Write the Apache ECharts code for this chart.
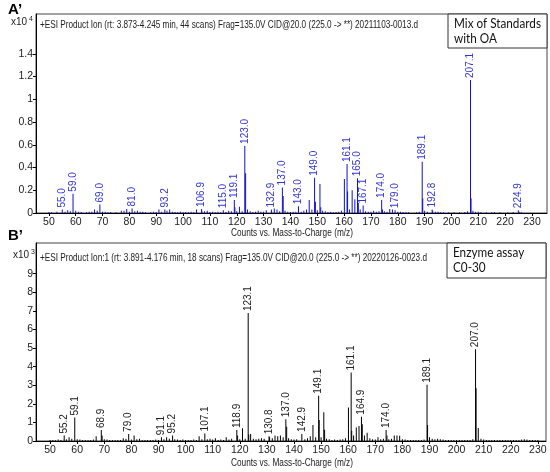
<!DOCTYPE html>
<html>
<head>
<meta charset="utf-8">
<script src="https://cdn.jsdelivr.net/npm/echarts@6/dist/echarts.min.js"></script>
</head>
<body style="margin:0;background:#fff">
<div id="container" style="width:550px;height:472px"></div>
<script>
// m/z ticks shared by both spectra
var xTicks = [50, 60, 70, 80, 90, 100, 110, 120, 130, 140, 150, 160, 170, 180, 190, 200, 210, 220, 230];
var yTicksA = [0, 0.2, 0.4, 0.6, 0.8, 1, 1.2, 1.4];   // x10^4
var yTicksB = [0, 1, 2, 3, 4, 5, 6, 7, 8, 9];          // x10^3

// A' : Mix of Standards with OA (counts x10^4) -- labelled peaks [m/z, height, label]
var peaksA = [
  [55.0, 0.03, '55.0'], [59.0, 0.17, '59.0'], [69.0, 0.075, '69.0'], [81.0, 0.04, '81.0'],
  [93.2, 0.03, '93.2'], [106.9, 0.035, '106.9'], [115.0, 0.025, '115.0'], [119.1, 0.115, '119.1'],
  [123.0, 0.59, '123.0'], [132.9, 0.03, '132.9'], [137.0, 0.225, '137.0'], [143.0, 0.06, '143.0'],
  [149.0, 0.31, '149.0'], [161.1, 0.43, '161.1'], [165.0, 0.305, '165.0'], [167.1, 0.065, '167.1'],
  [174.0, 0.115, '174.0'], [179.0, 0.025, '179.0'], [189.1, 0.45, '189.1'], [192.8, 0.03, '192.8'],
  [207.1, 1.17, '207.1'], [224.9, 0.025, '224.9']
];
// A' : unlabelled peaks [m/z, height]
var minorA = [
  [50,0.008],[51,0.006],[53,0.01],[56,0.012],[57,0.025],[58,0.015],[60,0.02],[61,0.012],[62,0.008],
  [64,0.006],[65,0.01],[66,0.012],[67,0.03],[68,0.02],[70,0.012],[71,0.01],[72,0.006],[73,0.008],
  [75,0.006],[77,0.02],[78,0.02],[79,0.035],[80,0.012],[82,0.015],[83,0.02],[84,0.01],[85,0.01],
  [86,0.006],[88,0.006],[89,0.01],[90,0.008],[91,0.03],[92,0.012],[94,0.02],[95,0.03],[96,0.012],
  [97,0.008],[98,0.006],[99,0.01],[100,0.006],[101,0.008],[102,0.006],[103,0.01],[104,0.006],
  [105,0.03],[107,0.015],[108,0.015],[109,0.02],[110,0.008],[111,0.012],[112,0.006],[113,0.01],
  [114,0.006],[116,0.008],[117,0.02],[118,0.015],[119.3,0.05],[120,0.015],[121,0.055],[122,0.015],
  [123.3,0.35],[124,0.03],[125,0.015],[126,0.008],[127,0.01],[128,0.02],[129,0.01],[130,0.012],
  [131,0.025],[133,0.015],[134,0.04],[135,0.03],[136,0.015],[137.3,0.15],[138,0.02],[139,0.01],
  [140,0.008],[141,0.012],[142,0.01],[144,0.012],[145,0.02],[146,0.03],[147,0.115],[148,0.03],
  [149.3,0.1],[150,0.025],[151,0.255],[151.3,0.05],[152,0.02],[153,0.015],[154,0.008],[155,0.012],
  [156,0.006],[157,0.008],[158,0.01],[159,0.02],[160.1,0.3],[161.3,0.19],[162,0.03],[163,0.2],
  [164,0.12],[165.3,0.09],[166,0.03],[168,0.015],[169,0.01],[170,0.01],[171,0.02],[172,0.012],
  [173,0.015],[174.3,0.03],[175,0.015],[176,0.012],[177,0.035],[178,0.03],[180,0.01],[181,0.012],
  [182,0.008],[183,0.006],[184,0.006],[187,0.006],[188,0.01],[189.3,0.13],[190,0.02],[191,0.012],
  [193,0.02],[194,0.01],[195,0.012],[196,0.006],[197,0.006],[199,0.006],[201,0.006],[203,0.006],
  [205,0.008],[206,0.015],[207.3,0.13],[208,0.02],[209,0.012],[210,0.01],[211,0.008],[213,0.006],
  [215,0.006],[216,0.006],[218,0.006],[221,0.006],[223,0.008],[225.2,0.012],[226,0.006]
];

// B' : Enzyme assay C0-30 (counts x10^3)
var peaksB = [
  [55.2, 0.29, '55.2'], [59.1, 1.26, '59.1'], [68.9, 0.59, '68.9'], [79.0, 0.38, '79.0'],
  [91.1, 0.2, '91.1'], [95.2, 0.3, '95.2'], [107.1, 0.41, '107.1'], [118.9, 0.59, '118.9'],
  [123.1, 6.88, '123.1'], [130.8, 0.25, '130.8'], [137.0, 1.17, '137.0'], [142.9, 0.38, '142.9'],
  [149.1, 2.43, '149.1'], [161.1, 3.68, '161.1'], [164.9, 1.31, '164.9'], [174.0, 0.59, '174.0'],
  [189.1, 3.02, '189.1'], [207.0, 4.94, '207.0']
];
var minorB = [
  [50,0.05],[51,0.06],[52,0.04],[53,0.08],[54,0.06],[56,0.1],[57,0.2],[58,0.12],[60,0.1],[61,0.08],
  [62,0.05],[63,0.06],[64,0.05],[65,0.06],[66,0.08],[67,0.25],[69.2,0.3],[70,0.1],[71,0.08],[72,0.05],
  [73,0.06],[74,0.05],[75,0.06],[76,0.05],[77,0.15],[78,0.12],[80,0.08],[81,0.3],[82,0.1],[83,0.12],
  [84,0.06],[85,0.05],[86,0.05],[87,0.05],[88,0.05],[89,0.08],[90,0.06],[92,0.1],[93,0.2],[94,0.12],
  [96,0.1],[97,0.08],[98,0.06],[99,0.08],[100,0.06],[101,0.05],[102,0.06],[103,0.08],[104,0.06],
  [105,0.25],[106,0.1],[108,0.1],[109,0.12],[110,0.08],[111,0.15],[112,0.06],[113,0.08],[114,0.06],
  [115,0.2],[116,0.08],[117,0.12],[119.2,0.3],[120,0.1],[121,0.68],[122,0.12],[123.3,0.35],[124,0.38],
  [125,0.12],[126,0.1],[127,0.12],[128,0.15],[129,0.12],[131,0.2],[132,0.15],[133,0.3],[134,0.25],
  [135,0.3],[136,0.2],[137.3,0.77],[138,0.15],[139,0.1],[140,0.08],[141,0.1],[144,0.1],[145,0.15],
  [146,0.25],[147,0.86],[148,0.2],[149.3,1.13],[150,0.2],[151,1.55],[151.3,0.6],[152,0.12],[153,0.1],
  [154,0.06],[155,0.08],[156,0.06],[157,0.08],[158,0.1],[159,0.15],[160.1,1.8],[161.3,0.55],[162,0.3],
  [163,0.72],[164,0.81],[165.2,0.9],[166,0.3],[167,0.45],[168,0.15],[169,0.1],[170,0.08],[171,0.2],
  [172,0.1],[173,0.12],[174.3,0.3],[175,0.1],[176,0.12],[177,0.3],[178,0.3],[179,0.28],[180,0.1],
  [181,0.08],[182,0.06],[183,0.06],[184,0.05],[185,0.05],[186,0.05],[187,0.06],[188,0.08],[189.3,0.86],
  [190,0.2],[191,0.12],[192,0.1],[193,0.12],[194,0.1],[195,0.08],[196,0.06],[197,0.05],[198,0.05],
  [199,0.05],[200,0.05],[201,0.06],[202,0.05],[203,0.06],[204,0.05],[205,0.06],[206,0.1],[207.2,2.84],
  [208,0.7],[209,0.12],[210,0.08],[211,0.06],[212,0.05],[213,0.05],[214,0.06],[215,0.05],[216,0.05],
  [217,0.05],[218,0.05],[219,0.05],[220,0.05],[221,0.06],[222,0.05],[223,0.06],[224,0.08],[225,0.1],
  [226,0.08],[227,0.06],[228,0.05],[229,0.05],[230,0.05]
];

var headerA = '+ESI Product Ion (rt: 3.873-4.245 min, 44 scans) Frag=135.0V CID@20.0 (225.0 -> **) 20211103-0013.d';
var headerB = '+ESI Product Ion:1 (rt: 3.891-4.176 min, 18 scans) Frag=135.0V CID@20.0 (225.0 -> **) 20220126-0023.d';
var xTitle = 'Counts vs. Mass-to-Charge (m/z)';

var FONT = 'Liberation Sans';
var NOTE_FONT = '13px Lato';

// squeeze a text to the width it takes in the instrument printout
function squeeze(text, font, target) {
  var ctx = document.createElement('canvas').getContext('2d');
  ctx.font = font;
  return target / ctx.measureText(text).width;
}
var noteScale = squeeze('Mix of Standards', NOTE_FONT, 87);

function spectrum(peaks, minor) {
  var data = minor.map(function (p) { return [p[0], p[1]]; });
  peaks.forEach(function (p) {
    data.push({ value: [p[0], p[1]], label: { show: true, formatter: p[2] } });
  });
  return data;
}

function xAxisFor(i, min, max) {
  return {
    type: 'value', gridIndex: i, min: min, max: max,
    axisLine: { show: true, lineStyle: { color: '#000' } },
    axisTick: { show: true, length: 3, customValues: xTicks, lineStyle: { color: '#000' } },
    axisLabel: { customValues: xTicks, fontFamily: FONT, fontSize: 10.5, color: '#222', margin: 4 },
    splitLine: { show: false }
  };
}
function yAxisFor(i, max, ticks) {
  return {
    type: 'value', gridIndex: i, min: 0, max: max,
    axisLine: { show: true, lineStyle: { color: '#000' } },
    axisTick: { show: true, length: 3, customValues: ticks, lineStyle: { color: '#000' } },
    axisLabel: { customValues: ticks, fontFamily: FONT, fontSize: 10.5, color: '#222', margin: 3 },
    splitLine: { show: false }
  };
}
function barSeries(i, data, colour, labelColour) {
  return {
    type: 'bar', xAxisIndex: i, yAxisIndex: i, barWidth: 1, data: data,
    itemStyle: { color: colour },
    label: {
      show: false, position: 'top', rotate: 90, align: 'left', verticalAlign: 'middle',
      distance: 2, fontFamily: FONT, fontSize: 10, color: labelColour
    },
    animation: false
  };
}
function headerText(text, x, y, width) {
  var font = '10px ' + FONT;
  return {
    type: 'text', x: x, y: y, scaleX: squeeze(text, font, width),
    style: { text: text, font: font, fill: '#222', textVerticalAlign: 'middle' }
  };
}
function boxNote(x, y, w, h, lines) {
  return [
    { type: 'rect', shape: { x: x, y: y, width: w, height: h }, style: { fill: '#fff', stroke: '#333', lineWidth: 1 } },
    { type: 'text', x: x + 6, y: y + 10, scaleX: noteScale, style: { text: lines[0], font: NOTE_FONT, fill: '#111', textVerticalAlign: 'middle' } },
    { type: 'text', x: x + 6, y: y + 25, scaleX: noteScale, style: { text: lines[1], font: NOTE_FONT, fill: '#111', textVerticalAlign: 'middle' } }
  ];
}
function scaleNote(x, y, exp) {
  return {
    type: 'text', x: x, y: y,
    style: {
      text: 'x10{s|' + exp + '}', font: '10px ' + FONT, fill: '#222', textVerticalAlign: 'middle',
      rich: { s: { fontSize: 7, fontFamily: FONT, padding: [0, 0, 6, 2] } }
    }
  };
}

var myChart = echarts.init(document.getElementById('container'));

var option = {
  backgroundColor: '#fff',
  animation: false,
  grid: [
    { left: 36, top: 14, right: 3, height: 199, show: true, borderColor: '#444', borderWidth: 1 },
    { left: 36, top: 243, right: 4, height: 198, show: true, borderColor: '#444', borderWidth: 1 }
  ],
  xAxis: [xAxisFor(0, 45.2, 235.6), xAxisFor(1, 44.8, 233)],
  yAxis: [yAxisFor(0, 1.75, yTicksA), yAxisFor(1, 10.65, yTicksB)],
  series: [
    barSeries(0, spectrum(peaksA, minorA), '#1010d0', '#3535d5'),
    barSeries(1, spectrum(peaksB, minorB), '#000', '#222')
  ],
  graphic: [
    { type: 'text', x: 8, y: 10, style: { text: 'A\u2019', font: 'bold 15px ' + FONT, fill: '#000', textVerticalAlign: 'middle' } },
    { type: 'text', x: 8, y: 236, style: { text: 'B\u2019', font: 'bold 15px ' + FONT, fill: '#000', textVerticalAlign: 'middle' } },
    scaleNote(11, 22, 4),
    scaleNote(13, 255, 3),
    headerText(headerA, 40, 25, 378),
    headerText(headerB, 40, 258, 387),
    headerText(xTitle, 231, 233, 122),
    headerText(xTitle, 231, 463, 122)
  ].concat(boxNote(448, 14, 99, 34, ['Mix of Standards', 'with OA']))
   .concat(boxNote(447, 243, 99, 35, ['Enzyme assay', 'C0-30']))
};

myChart.setOption(option);
</script>
</body>
</html>
